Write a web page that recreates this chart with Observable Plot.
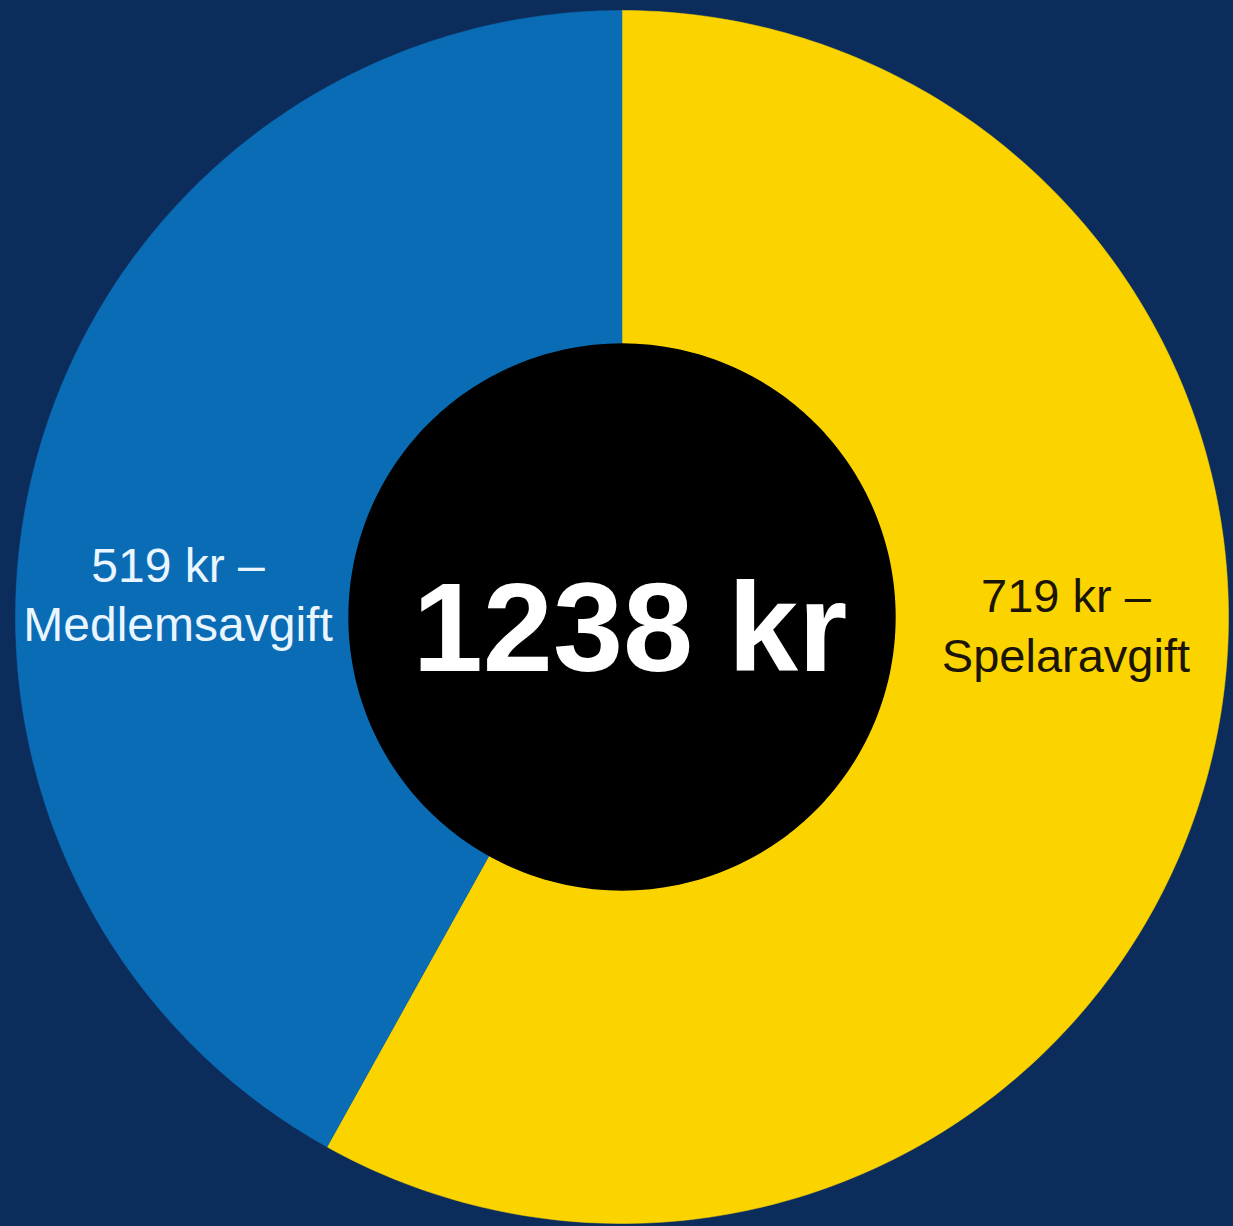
<!DOCTYPE html>
<html>
<head>
<meta charset="utf-8">
<script src="https://cdn.jsdelivr.net/npm/d3@7"></script>
<script src="https://cdn.jsdelivr.net/npm/@observablehq/plot@0.6"></script>
<style>
  html, body { margin: 0; padding: 0; background: #0c2d5b; }
  #chart { width: 1233px; height: 1226px; overflow: hidden; }
</style>
</head>
<body>
<div id="chart"></div>
<script>
// Data
const categories = ["Spelaravgift", "Medlemsavgift"];
const amounts = [719, 519];
const totalLabel = "1238 kr";
const sliceColors = ["#fbd400", "#0b6cb6"];
const labelColors = ["#1b1507", "#eaf6ff"];

// Geometry (relative to outer radius = 1)
const outerR = 1;
const innerR = 0.45;
const W = 1233, H = 1226;
const cx = 621.5, cy = 616.5, R = 606.5;

const pie = d3.pie().sort(null).value(d => d.amount).startAngle(0).endAngle(2 * Math.PI);
const slices = pie(categories.map((c, i) => ({category: c, amount: amounts[i]})));

// Build arc polygons
const N = 240;
const polys = [];
slices.forEach(s => {
  const pts = [];
  for (let k = 0; k <= N; k++) {
    const a = s.startAngle + (s.endAngle - s.startAngle) * k / N;
    pts.push({category: s.data.category, x: outerR * Math.sin(a), y: outerR * Math.cos(a)});
  }
  pts.push({category: s.data.category, x: 0, y: 0});
  polys.push(...pts);
});
const disk = d3.range(N + 1).map(k => {
  const a = 2 * Math.PI * k / N;
  return {x: innerR * Math.sin(a), y: innerR * Math.cos(a)};
});

// Labels at the mid-radius, at the horizontal side of each slice
const midR = (outerR + innerR) / 2 + 0.007;
const labels = slices.map((s, i) => {
  const side = i === 0 ? 1 : -1;
  return {
    category: s.data.category,
    text: `${s.data.amount} kr –\n${s.data.category}`,
    x: side * midR,
    y: 0
  };
});

const chart = Plot.plot({
  width: W,
  height: H,
  margin: 0,
  x: {domain: [-cx / R, (W - cx) / R], axis: null},
  y: {domain: [-(H - cy) / R, cy / R], axis: null},
  color: {domain: categories, range: sliceColors},
  style: {background: "#0c2d5b", fontFamily: "'Liberation Sans', Arial, sans-serif"},
  marks: [
    Plot.line(polys, {x: "x", y: "y", z: "category", fill: "category", stroke: "category", strokeWidth: 0.5, curve: "linear"}),
    Plot.line(disk, {x: "x", y: "y", fill: "#000000", stroke: "#000000", curve: "linear"}),
    Plot.text([totalLabel], {x: () => 0, y: () => 0, text: d => d, fill: "#ffffff", fontSize: 126, fontWeight: "bold", dx: 8, dy: 14, textAnchor: "middle", lineAnchor: "middle"}),
    Plot.text(labels.slice(0, 1), {x: "x", y: "y", text: "text", fill: labelColors[0], fontSize: 47, lineHeight: 1.26, textAnchor: "middle", lineAnchor: "middle", dy: 6}),
    Plot.text(labels.slice(1, 2), {x: "x", y: "y", text: "text", fill: labelColors[1], fontSize: 48, lineHeight: 1.23, textAnchor: "middle", lineAnchor: "middle", dy: -24})
  ]
});
document.getElementById("chart").appendChild(chart);
</script>
</body>
</html>
